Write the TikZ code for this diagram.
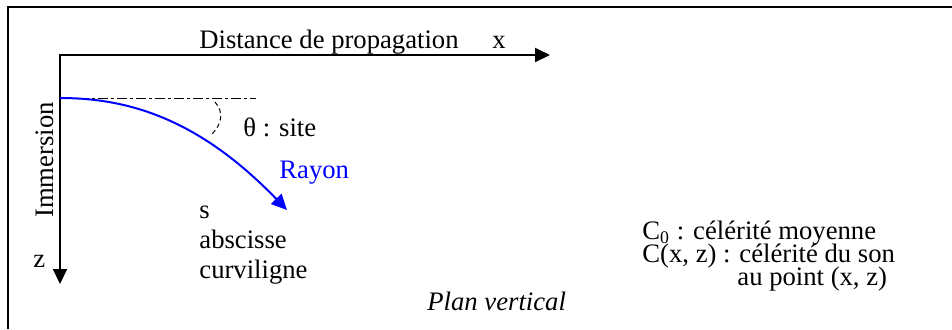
\documentclass[tikz,border=0pt]{standalone}
\usepackage{fontspec}
\setmainfont{Liberation Serif}
\usetikzlibrary{arrows.meta}
\begin{document}
\begin{tikzpicture}[x=0.45pt,y=-0.45pt, font=\fontsize{12}{14}\selectfont,
  txt/.style={inner sep=0pt, anchor=base west},
  axis/.style={line width=0.9pt, {Triangle[length=6.75pt,width=6.3pt]}-{Triangle[length=6.75pt,width=6.3pt]}},
  ray/.style={blue, line width=0.9pt, -{Triangle[length=7pt,width=6.5pt]}},
  frame/.style={line width=0.9pt},
  dashdot/.style={line width=0.45pt, dash pattern=on 4.5pt off 1.35pt on 1.35pt off 1.35pt},
  anglearc/.style={line width=0.45pt, dash pattern=on 2pt off 1.5pt}]
\useasboundingbox (0,0) rectangle (952,329);
% frame (partially visible)
\coordinate (F1) at (952,7);
\coordinate (F0) at (8,7);
\coordinate (F2) at (8,329);
\draw[frame] (F1) -- (F0) -- (F2);
% axes
\coordinate (O) at (60,55);
\coordinate (X) at (550,55);
\coordinate (Z) at (60,284);
\draw[axis] (X) -- (O) -- (Z);
% horizontal reference and ray
\coordinate (S) at (60,98);
\coordinate (H) at (256,98);
\draw[dashdot] (S) -- (H);
\coordinate (R) at (287,210);
\draw[ray] (S) .. controls (130,98) and (200,120) .. (R);
\coordinate (A1) at (215,102);
\coordinate (A2) at (212,134);
\draw[anglearc] (A1) .. controls (224,112) and (222,124) .. (A2);
% texts
\node[txt] (dist) at (199,48) {Distance de propagation};
\node[txt] (xl) at (492,48) {x};
\node[txt] (zl) at (33,267) {z};
\node[txt, rotate=90, anchor=base] (imm) at (53,160) {Immersion};
\node[txt] (theta) at (243,136) {θ : site};
\node[txt, text=blue] (rayon) at (279,178) {Rayon};
\node[txt] (s) at (199,218) {s};
\node[txt] (abs) at (199,248) {abscisse};
\node[txt] (curv) at (199,278) {curviligne};
\node[txt] (c0) at (642,239) {C\textsubscript{0} : célérité moyenne};
\node[txt] (cxz) at (642,262) {C(x, z) : célérité du son};
\node[txt] (aup) at (737,285) {au point (x, z)};
\node[txt, font=\fontsize{12}{14}\selectfont\itshape] (plan) at (427,310) {Plan vertical};
\end{tikzpicture}
\end{document}
